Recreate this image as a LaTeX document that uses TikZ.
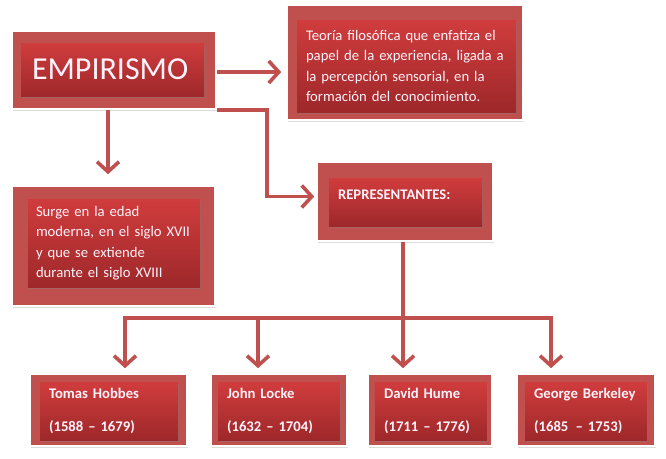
\documentclass[tikz,border=0pt]{standalone}
\usepackage{fontspec}
\setmainfont{Carlito}
\usetikzlibrary{arrows.meta,positioning,shadows,calc}
\definecolor{brick}{RGB}{192,80,77}
\definecolor{brickhi}{RGB}{208,60,61}
\definecolor{bricklo}{RGB}{158,40,42}
\definecolor{chalk}{RGB}{255,242,250}
\tikzset{
  >={Straight Barb[length=10pt,width=22pt]},
  frame/.style={fill=brick,draw=white,line width=1.6pt,inner sep=0pt,
    drop shadow={opacity=0.28,shadow xshift=1.2pt,shadow yshift=-1.6pt}},
  card/.style={top color=brickhi,bottom color=bricklo,inner sep=0pt,inner xsep=9pt,
    text=chalk,align=left,font=\fontsize{14.7}{20.5}\selectfont,
    drop shadow={opacity=0.4,shadow xshift=0.8pt,shadow yshift=-1.6pt}},
  link/.style={->,draw=brick,line width=3.6pt,shorten >=5pt},
  trunk/.style={draw=brick,line width=3.6pt},
}
\begin{document}
\begin{tikzpicture}[x=1pt,y=-1pt]
  \useasboundingbox (0,0) rectangle (666,458);
  % top row
  \node[frame,minimum width=204pt,minimum height=78pt] (emp) at (114,70) {};
  \node[card,inner xsep=11pt,text width=161pt,minimum height=53pt,
    font=\fontsize{32}{32}\selectfont] (emp-in) at (112.5,69.5) {EMPIRISMO};
  \node[frame,minimum width=236pt,minimum height=115pt] (theo) at (405,62.5) {};
  \node[card,text width=201pt,minimum height=92pt] (theo-in) at (406.5,66)
    {Teoría filosófica que enfatiza el\\papel de la experiencia, ligada a\\la percepción sensorial, en la\\formación del conocimiento.};
  % middle row
  \node[frame,minimum width=203pt,minimum height=120pt] (surge) at (113.5,246) {};
  \node[card,inner xsep=8pt,text width=156pt,minimum height=88pt] (surge-in) at (114,243)
    {Surge en la edad\\moderna, en el siglo XVII\\y que se extiende\\durante el siglo XVIII};
  \node[frame,minimum width=176pt,minimum height=79pt] (rep) at (405,201.5) {};
  \node[card,text width=135pt,minimum height=48pt] (rep-in) at (405.5,202)
    {\textbf{REPRESENTANTES:}\\[-6pt]\mbox{}};
  % bottom row
  \foreach \id/\x/\fw/\cx/\cw/\who/\yrs in {
    hobbes/108.5/157/109/120/Tomas Hobbes/{(1588 – 1679)},
    locke/279/136/279/104/John Locke/{(1632 – 1704)},
    hume/430/124/431/94/David Hume/{(1711 – 1776)},
    berkeley/586/138/586/104/George Berkeley/{(1685 \,– 1753)}}
  {
    \node[frame,minimum width=\fw pt,minimum height=72pt] (\id) at (\x,410) {};
    \node[card,text width=\cw pt,minimum height=58pt] (\id-in) at (\cx,411)
      {\textbf{\who}\\[13pt]\textbf{\yrs}};
  }
  % connectors
  \draw[link] ([yshift=-2pt]emp.east) -- ([yshift=-2pt]emp.east -| theo.west);
  \draw[link,shorten >=11pt] ([xshift=-6pt]emp.south) -- ([xshift=-6pt]emp.south |- surge.north);
  \draw[link,shorten >=2pt] (emp.south east) -- ++(50,0) |- ([yshift=5pt]rep.west);
  \coordinate (split) at ([xshift=-2pt]rep.south |- 0,318);
  \draw[trunk] ([xshift=-2pt]rep.south) -- (split);
  \foreach \id/\dx in {hobbes/16.5,locke/-21,hume/-27,berkeley/-35}
    \draw[link] (split) -| ([xshift=\dx pt]\id.north);
\end{tikzpicture}
\end{document}
